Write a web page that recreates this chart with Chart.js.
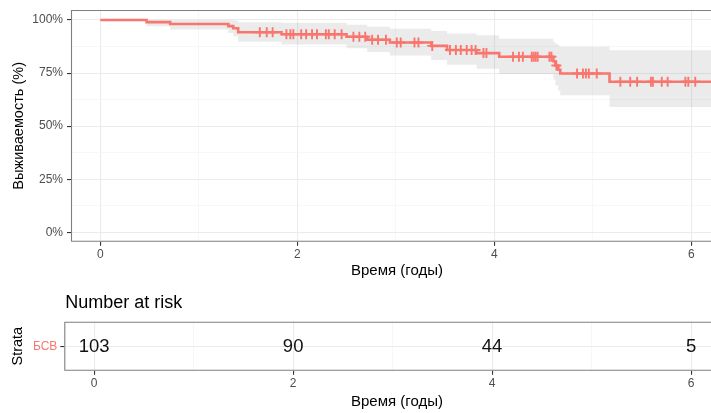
<!DOCTYPE html>
<html>
<head>
<meta charset="utf-8">
<script src="https://cdn.jsdelivr.net/npm/chart.js@4.4.1/dist/chart.umd.min.js"></script>
<style>
  body { margin: 0; background: #fff; }
  #wrap { position: relative; width: 711px; height: 413px; overflow: hidden; }
  #kmBox { position: absolute; left: 0; top: 0; }
  #riskBox { position: absolute; left: 0; top: 282px; }
</style>
</head>
<body>
<div id="wrap">
  <div id="kmBox"><canvas id="kmChart" width="711" height="282"></canvas></div>
  <div id="riskBox"><canvas id="riskChart" width="711" height="131"></canvas></div>
</div>
<script>
// KM estimate (%), step at each event time
const eventTimes = [0, 0.47, 0.71, 1.30, 1.35, 1.40, 1.84, 2.50, 2.71, 2.94, 3.36, 3.52, 3.82, 4.05, 4.60, 4.62, 4.65, 4.67, 5.17, 6.30];
const survival   = [100, 99.0, 98.1, 97.1, 96.1, 94.2, 93.3, 92.1, 90.7, 89.4, 87.8, 85.9, 84.4, 82.7, 80.6, 78.6, 76.6, 74.8, 70.9, 70.9];
const upperCI    = [100, 100, 100, 100, 99.8, 98.9, 98.7, 97.8, 96.8, 95.9, 94.8, 93.6, 92.8, 91.2, 89.8, 88.7, 87.9, 87.4, 85.8, 85.8];
const lowerCI    = [100, 97.1, 95.5, 93.9, 92.4, 89.7, 88.5, 86.7, 84.9, 83.3, 81.2, 78.9, 77.0, 74.6, 71.8, 69.2, 66.7, 64.5, 59.0, 59.0];

// censored observations (годы)
const censorTimes = [1.62, 1.69, 1.75, 1.89, 1.93, 1.96, 2.04, 2.09, 2.15, 2.20, 2.29, 2.32, 2.38, 2.45,
  2.57, 2.63, 2.69, 2.76, 2.82, 2.90, 3.01, 3.05, 3.19, 3.23, 3.37, 3.55, 3.61, 3.66, 3.72, 3.77, 3.81,
  3.89, 3.92, 4.19, 4.25, 4.29, 4.38, 4.40, 4.42, 4.44, 4.56, 4.58, 4.63, 4.84, 4.90, 4.93, 4.96, 5.04,
  5.28, 5.38, 5.45, 5.59, 5.61, 5.70, 5.76, 5.94, 5.97, 6.04];

// number at risk table
const strataName = "БСВ";
const riskTimes = [0, 2, 4, 6];
const riskCounts = [103, 90, 44, 5];

const xTicks = [0, 1, 2, 3, 4, 5, 6];
const yTicks = [0, 12.5, 25, 37.5, 50, 62.5, 75, 87.5, 100];

const red = "#F8766D";
const FONT = "'Liberation Sans', Arial, Helvetica, sans-serif";

function survAt(t) {
  let s = survival[0];
  for (let i = 0; i < eventTimes.length; i++) {
    if (eventTimes[i] <= t) s = survival[i];
  }
  return s;
}

function pts(ys) {
  return eventTimes.map((t, i) => ({ x: t, y: ys[i] }));
}

const isMajorX = (v) => v % 2 === 0;
const isMajorY = (v) => v % 25 === 0;

function gridOpts(isMajor) {
  return {
    color: (c) => (c.tick && isMajor(c.tick.value) ? "#EBEBEB" : "#F3F3F3"),
    lineWidth: (c) => (c.tick && isMajor(c.tick.value) ? 1.1 : 0.7),
    tickColor: (c) => (c.tick && isMajor(c.tick.value) ? "#333333" : "rgba(0,0,0,0)"),
    tickWidth: 1.1,
    tickLength: 4,
    drawTicks: true,
  };
}

function noPad(s) {
  s.paddingLeft = 0;
  s.paddingRight = 0;
  s.paddingTop = 0;
  s.paddingBottom = 0;
}

// panel border + axis titles drawn by hand (panel is cut at the right side)
function panelPlugin(xTitle, yTitle, yTitleX, xTitleY) {
  return {
    id: "panel",
    afterDraw(chart) {
      const a = chart.chartArea;
      const ctx = chart.ctx;
      ctx.save();
      ctx.strokeStyle = "#7F7F7F";
      ctx.lineWidth = 1.1;
      ctx.beginPath();
      ctx.moveTo(a.right + 5, a.top + 0.5);
      ctx.lineTo(a.left + 0.5, a.top + 0.5);
      ctx.lineTo(a.left + 0.5, a.bottom - 0.5);
      ctx.lineTo(a.right + 5, a.bottom - 0.5);
      ctx.stroke();

      ctx.fillStyle = "#000";
      ctx.font = "15px " + FONT;
      ctx.textAlign = "center";
      ctx.textBaseline = "middle";
      ctx.fillText(xTitle, 397, xTitleY);

      ctx.font = "14.5px " + FONT;
      ctx.translate(yTitleX, (a.top + a.bottom) / 2);
      ctx.rotate(-Math.PI / 2);
      ctx.fillText(yTitle, 0, 0);
      ctx.restore();
    },
  };
}

const tickFont = { family: FONT, size: 12 };

new Chart(document.getElementById("kmChart"), {
  type: "line",
  data: {
    datasets: [
      {
        data: pts(upperCI),
        stepped: true,
        borderWidth: 0,
        pointRadius: 0,
        fill: false,
        order: 3,
      },
      {
        data: pts(lowerCI),
        stepped: true,
        borderWidth: 0,
        pointRadius: 0,
        fill: "-1",
        backgroundColor: "rgba(128,128,128,0.16)",
        order: 2,
      },
      {
        data: pts(survival),
        stepped: true,
        borderColor: red,
        borderWidth: 2.6,
        pointRadius: 0,
        fill: false,
        order: 1,
      },
      {
        data: censorTimes.map((t) => ({ x: t, y: survAt(t) })),
        showLine: false,
        pointStyle: "cross",
        pointRadius: 5,
        pointBorderWidth: 1.9,
        pointBorderColor: red,
        order: 0,
      },
    ],
  },
  options: {
    responsive: false,
    animation: false,
    events: [],
    layout: { autoPadding: false, padding: { top: 10, left: 0, right: 0, bottom: 0 } },
    plugins: { legend: { display: false }, tooltip: { enabled: false } },
    scales: {
      x: {
        type: "linear",
        min: -0.297,
        max: 6.2,
        afterBuildTicks: (s) => { s.ticks = xTicks.map((v) => ({ value: v })); },
        afterFit: (s) => { s.height = 40.3; noPad(s); },
        grid: gridOpts(isMajorX),
        border: { display: false },
        ticks: {
          font: tickFont,
          color: "#4D4D4D",
          padding: 2,
          maxRotation: 0,
          callback: (v) => (isMajorX(v) ? String(v) : ""),
        },
      },
      y: {
        type: "linear",
        min: -4.43,
        max: 104.71,
        afterBuildTicks: (s) => { s.ticks = yTicks.map((v) => ({ value: v })); },
        afterFit: (s) => { s.width = 71; noPad(s); },
        grid: gridOpts(isMajorY),
        border: { display: false },
        ticks: {
          font: tickFont,
          color: "#4D4D4D",
          padding: 4,
          callback: (v) => (isMajorY(v) ? v + "%" : ""),
        },
      },
    },
  },
  plugins: [panelPlugin("Время (годы)", "Выживаемость (%)", 19, 271)],
});

const riskTextPlugin = {
  id: "riskText",
  afterDraw(chart) {
    const ctx = chart.ctx;
    const xs = chart.scales.x;
    const ys = chart.scales.y;
    ctx.save();
    ctx.fillStyle = "#000";
    ctx.font = "18px " + FONT;
    ctx.textAlign = "left";
    ctx.textBaseline = "middle";
    ctx.fillText("Number at risk", chart.chartArea.left + 1, 21);

    ctx.fillStyle = "#111";
    ctx.font = "18.5px " + FONT;
    ctx.textAlign = "center";
    riskTimes.forEach((t, i) => {
      ctx.fillText(String(riskCounts[i]), xs.getPixelForValue(t), ys.getPixelForValue(1) + 1);
    });
    ctx.restore();
  },
};

new Chart(document.getElementById("riskChart"), {
  type: "scatter",
  data: {
    datasets: [
      {
        data: riskTimes.map((t) => ({ x: t, y: 1 })),
        pointRadius: 0,
      },
    ],
  },
  options: {
    responsive: false,
    animation: false,
    events: [],
    layout: { autoPadding: false, padding: { top: 39.7, left: 0, right: 0, bottom: 0 } },
    plugins: { legend: { display: false }, tooltip: { enabled: false } },
    scales: {
      x: {
        type: "linear",
        min: -0.30,
        max: 6.2,
        afterBuildTicks: (s) => { s.ticks = xTicks.map((v) => ({ value: v })); },
        afterFit: (s) => { s.height = 42.3; noPad(s); },
        grid: gridOpts(isMajorX),
        border: { display: false },
        ticks: {
          font: tickFont,
          color: "#4D4D4D",
          padding: 2,
          maxRotation: 0,
          callback: (v) => (isMajorX(v) ? String(v) : ""),
        },
      },
      y: {
        type: "linear",
        min: 0,
        max: 2,
        afterBuildTicks: (s) => { s.ticks = [{ value: 1 }]; },
        afterFit: (s) => { s.width = 64.3; noPad(s); },
        grid: gridOpts(() => true),
        border: { display: false },
        ticks: {
          font: tickFont,
          color: red,
          padding: 3,
          callback: () => strataName,
        },
      },
    },
  },
  plugins: [riskTextPlugin, panelPlugin("Время (годы)", "Strata", 18, 120)],
});
</script>
</body>
</html>
